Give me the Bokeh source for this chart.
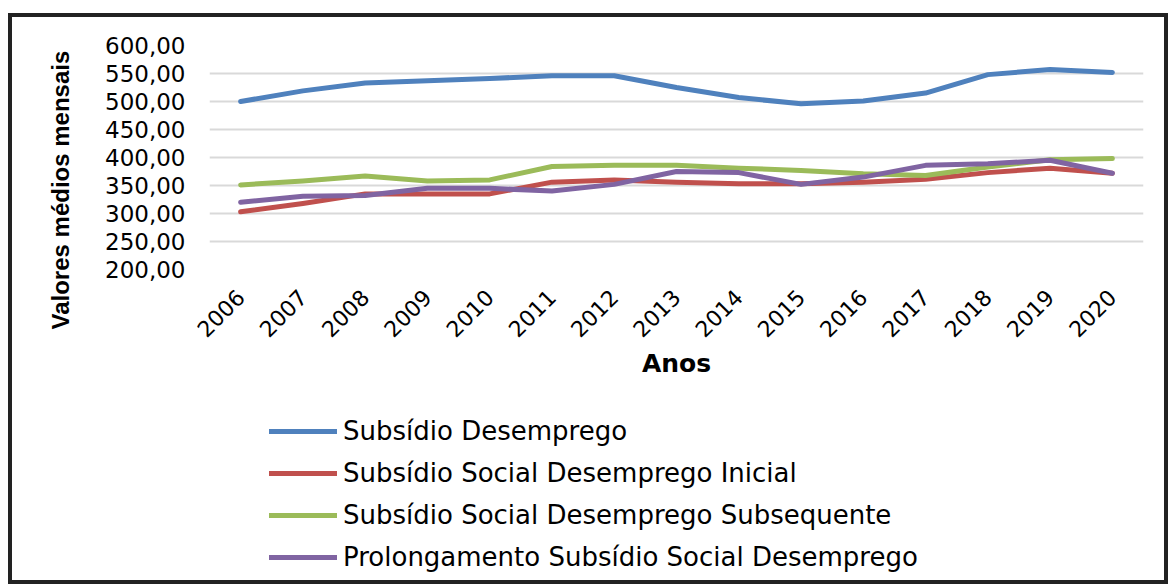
from bokeh.plotting import figure
from bokeh.models import FactorRange, Range1d, FixedTicker, Legend, LegendItem, Title
from bokeh.layouts import column
from bokeh.embed import file_html
from bokeh.resources import INLINE
from math import pi

years = ["2006", "2007", "2008", "2009", "2010", "2011", "2012", "2013",
         "2014", "2015", "2016", "2017", "2018", "2019", "2020"]

subsidio_desemprego = [500, 519, 533, 537, 541, 546, 546, 525, 507, 496, 501, 515, 548, 557, 552]
social_inicial = [303, 318, 335, 335, 335, 356, 360, 356, 353, 353, 356, 361, 373, 381, 372]
social_subsequente = [351, 358, 367, 358, 360, 384, 386, 386, 381, 377, 371, 368, 383, 396, 398]
prolongamento = [320, 331, 332, 345, 345, 340, 352, 375, 373, 352, 365, 386, 389, 395, 372]

series_names = ["Subsídio Desemprego", "Subsídio Social Desemprego Inicial",
                "Subsídio Social Desemprego Subsequente",
                "Prolongamento Subsídio Social Desemprego"]
series_values = [subsidio_desemprego, social_inicial, social_subsequente, prolongamento]
colors = ["#4F81BD", "#C0504D", "#9BBB59", "#8064A2"]

y_ticks = [200, 250, 300, 350, 400, 450, 500, 550, 600]
y_tick_labels = ["200,00", "250,00", "300,00", "350,00", "400,00",
                 "450,00", "500,00", "550,00", "600,00"]
y_title = "Valores médios mensais"
x_title = "Anos"

MBL, MBR = 197, 21

# ---- main chart ----
p = figure(width=1152, height=373, output_backend="svg", toolbar_location=None,
           x_range=FactorRange(*years), y_range=Range1d(200, 600),
           min_border_left=MBL, min_border_right=MBR, min_border_top=28,
           min_border_bottom=121)
p.outline_line_color = None
p.background_fill_color = "white"
p.border_fill_color = "white"

for name, vals, col in zip(series_names, series_values, colors):
    p.line(years, vals, line_color=col, line_width=5,
           line_join="round", line_cap="round")

p.xgrid.grid_line_color = None
p.ygrid.grid_line_color = "#D9D9D9"
p.ygrid.grid_line_width = 2
p.yaxis.ticker = FixedTicker(ticks=y_ticks)
p.yaxis.major_label_overrides = {t: l for t, l in zip(y_ticks, y_tick_labels)}

for ax in (p.xaxis, p.yaxis):
    ax.axis_line_color = None
    ax.major_tick_line_color = None
    ax.minor_tick_line_color = None
    ax.major_label_text_font = "DejaVu Sans"
    ax.major_label_text_font_size = "23px"
    ax.major_label_text_color = "#000000"
    ax.axis_label_text_color = "#000000"
    ax.axis_label_text_font_style = "bold"

p.yaxis.major_label_standoff = 18

ytitle = Title(text=y_title, align="left", offset=-60,
               text_font="Liberation Sans", text_font_size="24px",
               text_font_style="bold", text_color="#000000", standoff=58)
p.add_layout(ytitle, "left")

p.xaxis.major_label_orientation = pi / 4
p.xaxis.major_label_text_font_size = "22px"
p.xaxis.major_label_standoff = 18
p.xaxis.axis_label = x_title
p.xaxis.axis_label_text_font = "DejaVu Sans"
p.xaxis.axis_label_text_font_size = "25px"
p.xaxis.axis_label_standoff = 2

# ---- legend panel ----
leg = figure(width=1152, height=190, output_backend="svg", toolbar_location=None,
             x_range=p.x_range, y_range=Range1d(200, 600),
             x_axis_location=None, y_axis_location=None,
             min_border_left=MBL, min_border_right=MBR, min_border_top=0,
             min_border_bottom=0)
leg.outline_line_color = None
leg.grid.grid_line_color = None
leg.background_fill_color = "white"
leg.border_fill_color = "white"

items = []
for name, vals, col in zip(series_names, series_values, colors):
    r = leg.line(years, vals, line_color=col, line_width=5,
                 line_join="round", line_cap="round", visible=False)
    items.append(LegendItem(label=name, renderers=[r]))

legend = Legend(items=items, location=(60, 2), orientation="vertical",
                glyph_width=68, glyph_height=42, label_height=42, spacing=0,
                padding=0, margin=0, label_standoff=6,
                label_text_font="DejaVu Sans", label_text_font_size="26px",
                label_text_color="#000000",
                border_line_color=None, background_fill_alpha=0)
leg.add_layout(legend, "center")

layout = column(p, leg, spacing=0)
layout.styles = {"border": "4px solid #222222", "margin-top": "13px",
                 "margin-left": "8px", "background-color": "white"}

open("out.html", "w").write(file_html(layout, INLINE))
